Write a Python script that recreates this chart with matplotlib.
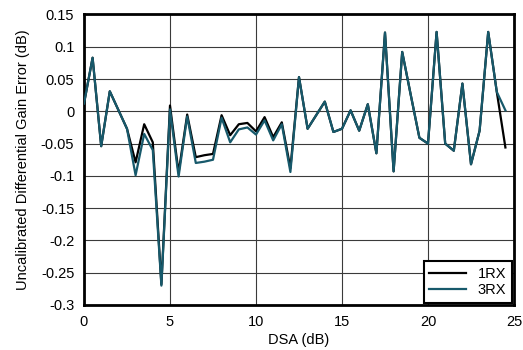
import matplotlib
matplotlib.use("Agg")
import matplotlib.pyplot as plt
import numpy as np

plt.rcParams['font.family'] = ['Liberation Sans', 'DejaVu Sans']
plt.rcParams['axes.unicode_minus'] = False

dsa = [0, 0.5, 1, 1.5, 2, 2.5, 3, 3.5, 4, 4.5, 5, 5.5, 6, 6.5, 7, 7.5, 8, 8.5, 9, 9.5,
       10, 10.5, 11, 11.5, 12, 12.5, 13, 13.5, 14, 14.5, 15, 15.5, 16, 16.5, 17, 17.5,
       18, 18.5, 19, 19.5, 20, 20.5, 21, 21.5, 22, 22.5, 23, 23.5, 24, 24.5]

rx1 = [0.012, 0.083, -0.054, 0.031, 0.002, -0.027, -0.079, -0.020, -0.048, -0.268,
       0.009, -0.095, -0.005, -0.071, -0.068, -0.066, -0.006, -0.037, -0.020, -0.018,
       -0.031, -0.009, -0.040, -0.017, -0.088, 0.053, -0.027, -0.006, 0.015, -0.032,
       -0.027, 0.0015, -0.030, 0.011, -0.065, 0.122, -0.093, 0.092, 0.025, -0.041,
       -0.050, 0.123, -0.050, -0.061, 0.043, -0.082, -0.030, 0.123, 0.030, -0.056]

rx3 = [0.012, 0.083, -0.054, 0.031, 0.002, -0.027, -0.099, -0.035, -0.060, -0.270,
       0.003, -0.101, -0.008, -0.080, -0.078, -0.075, -0.010, -0.048, -0.028, -0.025,
       -0.036, -0.014, -0.045, -0.020, -0.094, 0.053, -0.027, -0.006, 0.015, -0.032,
       -0.027, 0.0015, -0.030, 0.011, -0.065, 0.122, -0.093, 0.092, 0.025, -0.041,
       -0.050, 0.123, -0.050, -0.061, 0.043, -0.082, -0.030, 0.123, 0.030, 0.0015]

xticks = [0, 5, 10, 15, 20, 25]
yticks = [0.15, 0.1, 0.05, 0, -0.05, -0.1, -0.15, -0.2, -0.25, -0.3]
ytick_labels = ['0.15', '0.1', '0.05', '0', '-0.05', '-0.1', '-0.15', '-0.2', '-0.25', '-0.3']

fig = plt.figure(figsize=(5.23, 3.5), dpi=100)
ax = fig.add_axes([0.1606, 0.1286, 0.8222, 0.83])

ax.plot(dsa, rx1, color='black', lw=1.6, label='1RX', zorder=3)
ax.plot(dsa, rx3, color='#17596B', lw=1.6, label='3RX', zorder=4)

ax.set_xlim(0, 25)
ax.set_ylim(-0.3, 0.15)
ax.set_xticks(xticks)
ax.set_yticks(yticks)
ax.set_yticklabels(ytick_labels)
ax.tick_params(length=0, labelsize=10.5, pad=7)
ax.grid(True, color='#3a3a3a', lw=0.8)
ax.set_axisbelow(True)
for s in ax.spines.values():
    s.set_linewidth(2)
    s.set_color('black')

ax.set_xlabel('DSA (dB)', fontsize=10.5, labelpad=3)
ax.set_ylabel('Uncalibrated Differential Gain Error (dB)', fontsize=10.5, labelpad=8)

leg = ax.legend(loc='lower right', fontsize=10.5, frameon=True, fancybox=False,
                edgecolor='black', framealpha=1, borderaxespad=0.15,
                handlelength=2.5, handletextpad=0.8, labelspacing=0.15)
leg.get_frame().set_linewidth(1.5)

fig.savefig('out.png', dpi=100)
